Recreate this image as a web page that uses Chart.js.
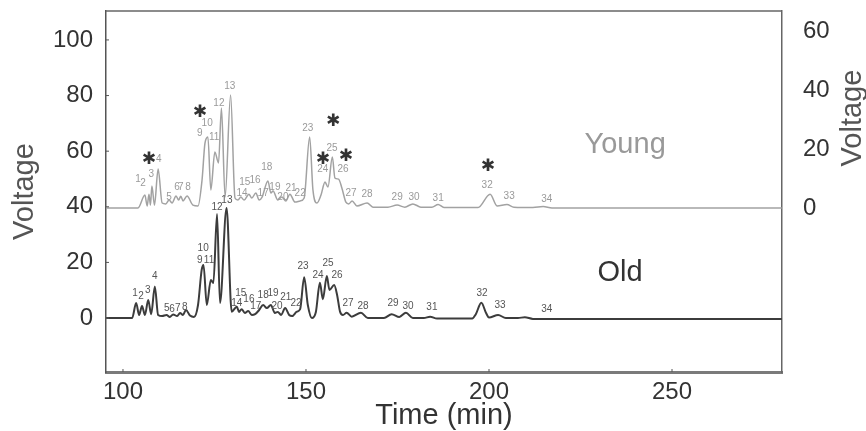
<!DOCTYPE html>
<html>
<head>
<meta charset="utf-8">
<script src="https://cdn.jsdelivr.net/npm/chart.js@4.4.1/dist/chart.umd.min.js"></script>
<style>
  body { margin: 0; background: #fff; }
</style>
</head>
<body>
<canvas id="chroma" width="866" height="431"></canvas>
<script>
// young trace (read against the right axis)
var youngTime = [95.4, 104.1, 106.0, 106.6, 107.1, 107.5, 107.9, 108.6, 109.6, 110.7, 111.7, 112.6, 113.4, 114.5, 115.2, 115.8, 116.4, 117.5, 119.1, 120.5,
  121.6, 122.4, 123.2, 124.0, 125.1, 126.1, 126.9, 127.9, 129.4, 130.6, 131.4, 132.2, 133.1, 134.4, 135.2, 136.3, 137.2, 138.0, 139.6, 140.4,
  141.0, 142.3, 143.4, 144.5, 145.6, 147.0, 148.4, 149.5, 151.0, 151.9, 153.0, 154.1, 155.2, 156.0, 157.2, 157.9, 158.9, 159.8, 160.9, 161.7,
  162.6, 163.9, 166.7, 168.3, 172.4, 174.9, 177.0, 179.2, 181.4, 184.4, 186.1, 187.7, 197.0, 200.3, 202.2, 204.9, 206.8, 212.0, 214.8, 217.2, 280];
var youngVolt = [0, 0, 4.4, 0.7, 4.7, 1.0, 7.5, 1.0, 13.2, 1.7, 1.4, 2.7, 1.7, 4.1, 2.7, 4.0, 2.4, 4.1, 1.0, 0.7,
  9.5, 22.0, 24.1, 6.1, 19.0, 15.3, 33.9, 3.7, 38.3, 3.4, 2.7, 3.7, 2.7, 4.7, 3.4, 5.1, 2.7, 3.7, 9.2, 5.1,
  5.8, 2.7, 3.7, 2.4, 4.7, 2.0, 2.4, 3.4, 24.1, 6.1, 1.7, 4.4, 8.8, 7.1, 17.3, 10.2, 9.8, 6.8, 2.0, 1.4,
  2.4, 0.7, 1.7, 0.3, 0.3, 1.0, 0.3, 1.4, 0.3, 0.3, 1.2, 0.2, 0.2, 4.7, 0.7, 1.2, 0.3, 0.2, 0.5, 0, 0];

// old trace (read against the left axis)
var oldTime = [95.4, 102.5, 103.6, 104.4, 105.2, 106.0, 106.9, 107.7, 108.7, 109.6, 110.7, 111.9, 112.8, 113.7, 114.8, 115.6, 116.4, 117.2, 118.3, 119.4,
  120.5, 121.5, 122.0, 122.9, 124.0, 124.7, 125.7, 126.5, 128.3, 129.7, 131.1, 131.7, 132.4, 133.3, 134.2, 135.2, 136.1, 137.2, 138.3, 139.3,
  140.4, 141.5, 142.3, 143.2, 144.3, 145.4, 146.2, 147.5, 148.4, 149.5, 150.5, 151.6, 152.7, 153.8, 154.6, 155.7, 156.4, 157.7, 158.5, 159.3,
  160.1, 161.1, 162.5, 165.0, 166.9, 171.3, 173.4, 175.5, 177.3, 179.2, 182.2, 183.9, 185.8, 195.4, 196.4, 197.9, 199.2, 200.0, 202.5, 204.6,
  207.9, 209.8, 212.0, 280];
var oldVolt = [0, 0, 5.4, 1.1, 4.3, 1.1, 6.5, 1.4, 11.3, 1.1, 0.7, 1.1, 0.4, 1.3, 0.7, 1.8, 1.1, 2.9, 0.9, 0.4,
  4.7, 17.3, 19.1, 4.7, 13.7, 12.6, 37.4, 5.4, 39.6, 2.3, 4.1, 2.2, 3.2, 1.8, 2.5, 1.1, 1.4, 2.9, 4.7, 3.6,
  4.7, 1.8, 2.2, 1.1, 3.6, 1.1, 0.7, 2.3, 3.2, 14.7, 4.7, 0, 2.2, 12.7, 6.8, 15.1, 10.1, 11.9, 8.3, 2.3,
  1.1, 1.9, 0.5, 1.9, 0, 0, 1.4, 0.4, 1.9, 0, 0, 0.5, -0.2, -0.2, 1.4, 5.5, 1.8, 0.2, 1.1, 0,
  0, 0.3, -0.3, -0.3];

// peak numbers
var peakNames = ['1','2','3','4','5','6','7','8','9','10','11','12','13','14','15','16','17','18','19','20','21','22','23','24','25','26','27','28','29','30','31','32','33','34'];
var youngPeakTime = [104.1, 105.5, 107.7, 109.8, 112.6, 114.8, 115.8, 117.8, 121.0, 123.0, 124.9, 126.2, 129.2, 132.5, 133.3, 136.1, 138.3, 139.3, 141.5, 143.7,
  145.9, 148.4, 150.5, 154.6, 157.1, 160.1, 162.3, 166.7, 174.9, 179.5, 186.1, 199.5, 205.5, 215.8];
var youngPeakVolt = [9.8, 8.5, 11.5, 16.6, 3.7, 7.1, 7.1, 7.1, 25.4, 28.8, 24.1, 35.6, 41.4, 5.1, 8.8, 9.5, 5.1, 13.9, 7.1, 3.7,
  6.8, 5.1, 27.1, 13.2, 20.3, 13.2, 5.1, 4.7, 3.7, 3.7, 3.4, 7.8, 4.1, 3.1];
var oldPeakTime = [103.3, 104.9, 106.8, 108.7, 112.0, 113.4, 115.0, 116.9, 121.0, 121.9, 123.5, 125.7, 128.4, 131.1, 132.2, 134.4, 136.3, 138.3, 141.0, 142.1,
  144.5, 147.3, 149.2, 153.3, 156.0, 158.5, 161.5, 165.6, 173.8, 177.9, 184.4, 198.1, 203.0, 215.8];
var oldPeakVolt = [9.0, 7.9, 10.1, 15.1, 3.6, 3.2, 3.6, 4.0, 20.9, 25.2, 20.9, 39.9, 42.4, 5.4, 9.0, 6.8, 4.3, 8.3, 9.0, 4.3,
  7.6, 5.4, 18.7, 15.5, 19.8, 15.5, 5.4, 4.3, 5.4, 4.3, 4.0, 9.0, 4.7, 3.2];

// asterisks over the young trace
var starTime = [107.1, 121.0, 157.4, 154.6, 160.9, 199.7];
var starVolt = [16.3, 32.2, 29.2, 16.3, 17.3, 13.9];

var timeTicks = [100, 150, 200, 250];
var leftTicks = [0, 20, 40, 60, 80, 100];
var rightTicks = [0, 20, 40, 60];

var FONT = '"Liberation Sans", Arial, Helvetica, sans-serif';

function pairs(xs, ys) {
  var out = [];
  for (var i = 0; i < xs.length; i++) out.push({x: xs[i], y: ys[i]});
  return out;
}

function setTicks(list) {
  return function(scale) {
    scale.ticks = list.map(function(v) { return {value: v}; });
  };
}

// fixed axis sizes so the plot box lands where the figure has it
function fitTo(w, h) {
  return function(s) {
    if (w) s.width = w;
    if (h) s.height = h;
    s.paddingTop = 0;
    s.paddingBottom = 0;
    s.paddingLeft = 0;
    s.paddingRight = 0;
  };
}

var extras = {
  id: 'extras',
  afterDraw: function(chart) {
    var ctx = chart.ctx;
    var a = chart.chartArea;
    var sx = chart.scales.x, sy = chart.scales.y, sr = chart.scales.y1;
    var i;
    ctx.save();

    // top edge of the box
    ctx.strokeStyle = '#666';
    ctx.lineWidth = 1.5;
    ctx.beginPath();
    ctx.moveTo(a.left, a.top);
    ctx.lineTo(a.right, a.top);
    ctx.stroke();

    // small inward ticks
    ctx.strokeStyle = '#555';
    ctx.lineWidth = 1;
    ctx.beginPath();
    for (i = 0; i < leftTicks.length; i++) {
      var py = sy.getPixelForValue(leftTicks[i]);
      ctx.moveTo(a.left, py);
      ctx.lineTo(a.left + 3, py);
    }
    for (i = 0; i < timeTicks.length; i++) {
      var px = sx.getPixelForValue(timeTicks[i]);
      ctx.moveTo(px, a.bottom);
      ctx.lineTo(px, a.bottom - 3);
    }
    ctx.stroke();

    ctx.textAlign = 'center';
    ctx.textBaseline = 'middle';

    // peak numbers
    ctx.font = '10px ' + FONT;
    ctx.fillStyle = '#9a9a9a';
    for (i = 0; i < peakNames.length; i++) {
      ctx.fillText(peakNames[i], sx.getPixelForValue(youngPeakTime[i]), sr.getPixelForValue(youngPeakVolt[i]));
    }
    ctx.fillStyle = '#555';
    for (i = 0; i < peakNames.length; i++) {
      ctx.fillText(peakNames[i], sx.getPixelForValue(oldPeakTime[i]), sy.getPixelForValue(oldPeakVolt[i]));
    }

    // stars
    ctx.font = '17px "DejaVu Sans"';
    ctx.fillStyle = '#333';
    for (i = 0; i < starTime.length; i++) {
      ctx.fillText('\u2731', sx.getPixelForValue(starTime[i]), sr.getPixelForValue(starVolt[i]));
    }

    // series names
    ctx.font = '29px ' + FONT;
    ctx.fillStyle = '#999';
    ctx.fillText('Young', sx.getPixelForValue(237.2), sr.getPixelForValue(21.4));
    ctx.fillStyle = '#333';
    ctx.fillText('Old', sx.getPixelForValue(235.8), sy.getPixelForValue(16.2));

    // right axis title, reading upwards like the left one
    ctx.fillStyle = '#555';
    ctx.translate(chart.width - 13, 118);
    ctx.rotate(-Math.PI / 2);
    ctx.fillText('Voltage', 0, 0);
    ctx.restore();
  }
};

new Chart(document.getElementById('chroma'), {
  type: 'line',
  data: {
    datasets: [
      {
        label: 'Young',
        data: pairs(youngTime, youngVolt),
        yAxisID: 'y1',
        borderColor: '#a2a2a2',
        borderWidth: 1.5,
        pointRadius: 0,
        cubicInterpolationMode: 'monotone',
        fill: false
      },
      {
        label: 'Old',
        data: pairs(oldTime, oldVolt),
        yAxisID: 'y',
        borderColor: '#3c3c3c',
        borderWidth: 2,
        pointRadius: 0,
        cubicInterpolationMode: 'monotone',
        fill: false
      }
    ]
  },
  options: {
    responsive: false,
    animation: false,
    devicePixelRatio: 1,
    layout: { padding: { top: 11, left: 0, right: 0, bottom: 0 } },
    plugins: {
      legend: { display: false },
      tooltip: { enabled: false }
    },
    scales: {
      x: {
        type: 'linear',
        min: 95.36,
        max: 280.05,
        afterBuildTicks: setTicks(timeTicks),
        afterFit: fitTo(0, 59),
        grid: { display: false, drawTicks: false },
        border: { display: true, color: '#7a7a7a', width: 3 },
        ticks: { padding: 6, color: '#333', font: { family: FONT, size: 24 } },
        title: {
          display: true, text: 'Time (min)', color: '#333',
          font: { family: FONT, size: 29, lineHeight: 1 },
          padding: { top: 0, bottom: 1 }
        }
      },
      y: {
        position: 'left',
        min: -19.4,
        max: 110.4,
        afterBuildTicks: setTicks(leftTicks),
        afterFit: fitTo(106, 0),
        grid: { display: false, drawTicks: false },
        border: { display: true, color: '#555', width: 1.5 },
        ticks: { padding: 13, color: '#333', font: { family: FONT, size: 24 } },
        title: {
          display: true, text: 'Voltage', color: '#555',
          font: { family: FONT, size: 29, lineHeight: 1 },
          padding: { top: 10, bottom: 0 }
        }
      },
      y1: {
        position: 'right',
        min: -55.6,
        max: 66.8,
        afterBuildTicks: setTicks(rightTicks),
        afterFit: fitTo(84, 0),
        grid: { display: false, drawTicks: false },
        border: { display: true, color: '#666', width: 1.5 },
        ticks: { padding: 21, color: '#333', font: { family: FONT, size: 24 } }
      }
    }
  },
  plugins: [extras]
});
</script>
</body>
</html>
